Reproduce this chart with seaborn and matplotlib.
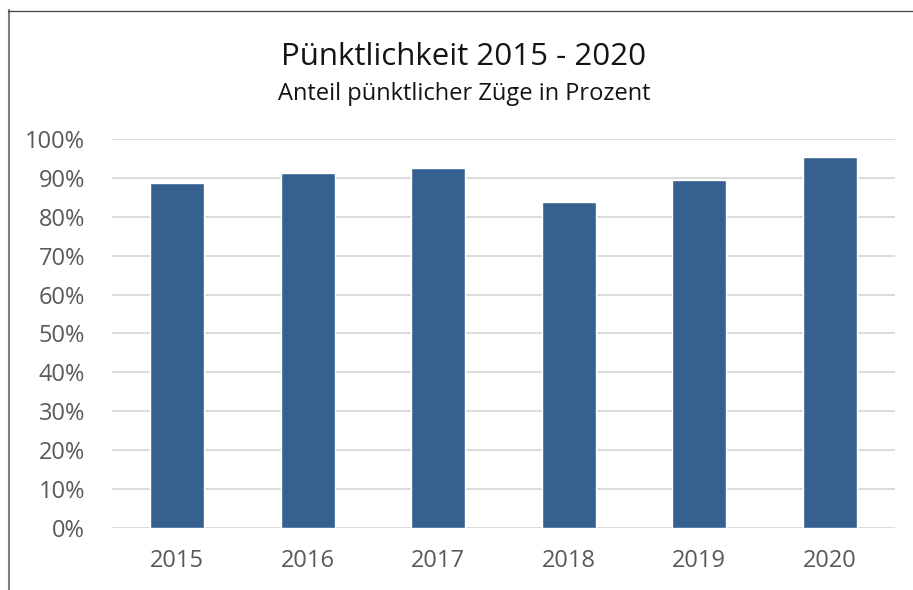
import matplotlib
matplotlib.use("Agg")
import matplotlib.pyplot as plt
from matplotlib.lines import Line2D
from matplotlib.ticker import FuncFormatter, MultipleLocator
import seaborn as sns
import pandas as pd

# data
years = ["2015", "2016", "2017", "2018", "2019", "2020"]
punctuality = [88.7, 91.4, 92.7, 83.9, 89.4, 95.3]

df = pd.DataFrame({"Jahr": years, "Anteil": punctuality})

sns.set_theme(style="white")
plt.rcParams["font.family"] = ["Open Sans", "DejaVu Sans"]

fig = plt.figure(figsize=(9.13, 5.90), dpi=100)
ax = fig.add_axes([112 / 913, 1 - 527.7 / 590, 783 / 913, 388.5 / 590])

sns.barplot(data=df, x="Jahr", y="Anteil", color="#36608f", saturation=1,
            width=0.41, ax=ax, zorder=3)

ax.set_ylim(0, 100)
ax.set_xlim(-0.5, 5.5)
ax.yaxis.set_major_locator(MultipleLocator(10))
ax.yaxis.set_major_formatter(FuncFormatter(lambda v, p: f"{v:.0f}%"))
ax.grid(axis="y", color="#d9d9d9", linewidth=1.3, zorder=0)
ax.set_axisbelow(True)
for s in ax.spines.values():
    s.set_visible(False)
ax.set_xlabel("")
ax.set_ylabel("")
ax.tick_params(axis="both", length=0, labelsize=17, labelcolor="#595959")
ax.tick_params(axis="x", pad=15)
ax.tick_params(axis="y", pad=19.5)

# title and subtitle, centred on the chart frame
cx = 464 / 913
fig.text(cx, 1 - 65 / 590, "Pünktlichkeit 2015 - 2020", ha="center", va="baseline",
         fontsize=22.5, color="#141414")
fig.text(cx, 1 - 100 / 590, "Anteil pünktlicher Züge in Prozent", ha="center", va="baseline",
         fontsize=17, color="#141414")

# chart frame (left and top edges)
fig.add_artist(Line2D([9 / 913, 9 / 913], [0, 1 - 10 / 590], transform=fig.transFigure,
                      color="#7f7f7f", linewidth=1.5))
fig.add_artist(Line2D([8 / 913, 1], [1 - 10.5 / 590, 1 - 10.5 / 590], transform=fig.transFigure,
                      color="#404040", linewidth=0.9))

fig.savefig("out.png", dpi=100)
